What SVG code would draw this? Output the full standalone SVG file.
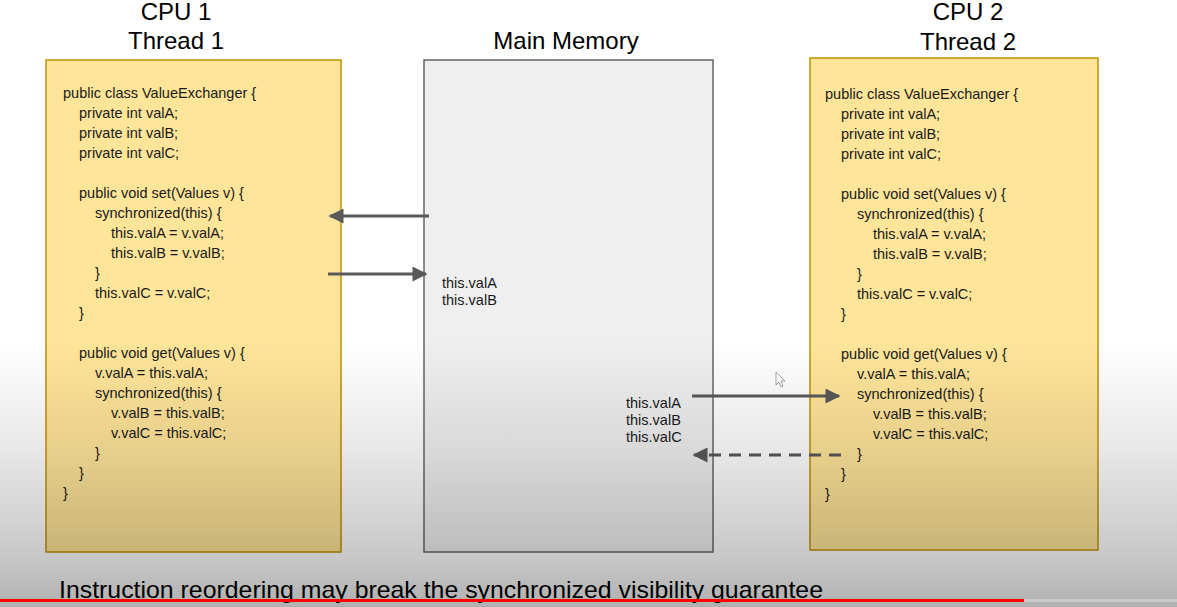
<svg xmlns="http://www.w3.org/2000/svg" width="1177" height="607" viewBox="0 0 1177 607">
<defs>
<style>
.t{font-family:"Liberation Sans",Arial,sans-serif;fill:#000}
.title{font-size:24px;text-anchor:middle}
.code{font-size:14.5px;fill:#1a1a1a}
.yb{fill:#ffe599;stroke:#bf9000;stroke-width:1.5}
.mm{fill:#efefef;stroke:#666;stroke-width:1.5}
.ar{stroke:#595959;stroke-width:3;fill:none}
</style>
<marker id="ah" viewBox="0 0 10 10" refX="9" refY="5" markerWidth="5.5" markerHeight="5" orient="auto" markerUnits="strokeWidth">
<path d="M0,0 L10,5 L0,10 Z" fill="#595959"/>
</marker>
<linearGradient id="shade" x1="0" y1="0" x2="0" y2="1">
<stop offset="0" stop-color="#000" stop-opacity="0"/>
<stop offset="0.4" stop-color="#000" stop-opacity="0.09"/>
<stop offset="0.82" stop-color="#000" stop-opacity="0.22"/>
<stop offset="1" stop-color="#000" stop-opacity="0.31"/>
</linearGradient>
</defs>
<rect width="1177" height="607" fill="#fff"/>

<g id="titles" class="t">
<text class="t title" x="176" y="20">CPU 1</text>
<text class="t title" x="176" y="49">Thread 1</text>
<text class="t title" x="566" y="49">Main Memory</text>
<text class="t title" x="968" y="20">CPU 2</text>
<text class="t title" x="968" y="50">Thread 2</text>
</g>

<g id="thread1">
<rect class="yb" x="46" y="60" width="295" height="492"/>
<g class="t code">
<text x="63" y="98">public class ValueExchanger {</text>
<text x="79" y="118">private int valA;</text>
<text x="79" y="138">private int valB;</text>
<text x="79" y="158">private int valC;</text>
<text x="79" y="198">public void set(Values v) {</text>
<text x="95" y="218">synchronized(this) {</text>
<text x="111" y="238">this.valA = v.valA;</text>
<text x="111" y="258">this.valB = v.valB;</text>
<text x="95" y="278">}</text>
<text x="95" y="298">this.valC = v.valC;</text>
<text x="79" y="318">}</text>
<text x="79" y="358">public void get(Values v) {</text>
<text x="95" y="378">v.valA = this.valA;</text>
<text x="95" y="398">synchronized(this) {</text>
<text x="111" y="418">v.valB = this.valB;</text>
<text x="111" y="438">v.valC = this.valC;</text>
<text x="95" y="458">}</text>
<text x="79" y="478">}</text>
<text x="63" y="498">}</text>
</g>
</g>

<g id="memory">
<rect class="mm" x="424" y="60" width="289" height="492"/>
<g class="t code">
<text x="442" y="288">this.valA</text>
<text x="442" y="305">this.valB</text>
<text x="626" y="408">this.valA</text>
<text x="626" y="425">this.valB</text>
<text x="626" y="442">this.valC</text>
</g>
</g>

<g id="thread2">
<rect class="yb" x="810" y="58" width="288" height="492"/>
<g class="t code">
<text x="825" y="99">public class ValueExchanger {</text>
<text x="841" y="119">private int valA;</text>
<text x="841" y="139">private int valB;</text>
<text x="841" y="159">private int valC;</text>
<text x="841" y="199">public void set(Values v) {</text>
<text x="857" y="219">synchronized(this) {</text>
<text x="873" y="239">this.valA = v.valA;</text>
<text x="873" y="259">this.valB = v.valB;</text>
<text x="857" y="279">}</text>
<text x="857" y="299">this.valC = v.valC;</text>
<text x="841" y="319">}</text>
<text x="841" y="359">public void get(Values v) {</text>
<text x="857" y="379">v.valA = this.valA;</text>
<text x="857" y="399">synchronized(this) {</text>
<text x="873" y="419">v.valB = this.valB;</text>
<text x="873" y="439">v.valC = this.valC;</text>
<text x="857" y="459">}</text>
<text x="841" y="479">}</text>
<text x="825" y="499">}</text>
</g>
</g>

<g id="connectors">
<line class="ar" x1="429" y1="216" x2="330" y2="216" marker-end="url(#ah)"/>
<line class="ar" x1="328" y1="274" x2="426" y2="274" marker-end="url(#ah)"/>
<line class="ar" x1="692" y1="396" x2="839" y2="396" marker-end="url(#ah)"/>
<line class="ar" x1="841" y1="455" x2="694" y2="455" stroke-dasharray="12,8" marker-end="url(#ah)"/>
</g>

<rect x="0" y="340" width="1177" height="267" fill="url(#shade)"/>

<g id="caption">
<text class="t" x="59" y="598" font-size="24" fill="#111" textLength="764" lengthAdjust="spacingAndGlyphs">Instruction reordering may break the synchronized visibility guarantee</text>
</g>

<g id="cursor">
<path d="M776,372 L776,385 L779,382 L781,387 L783,386 L781,381 L785,381 Z" fill="#fff" stroke="#888" stroke-width="0.8"/>
</g>

<g id="progress">
<rect x="1024" y="599" width="153" height="3" fill="#d8d8d8" opacity="0.6"/>
<rect x="0" y="599" width="1024" height="3" fill="#f00"/>
</g>
</svg>
